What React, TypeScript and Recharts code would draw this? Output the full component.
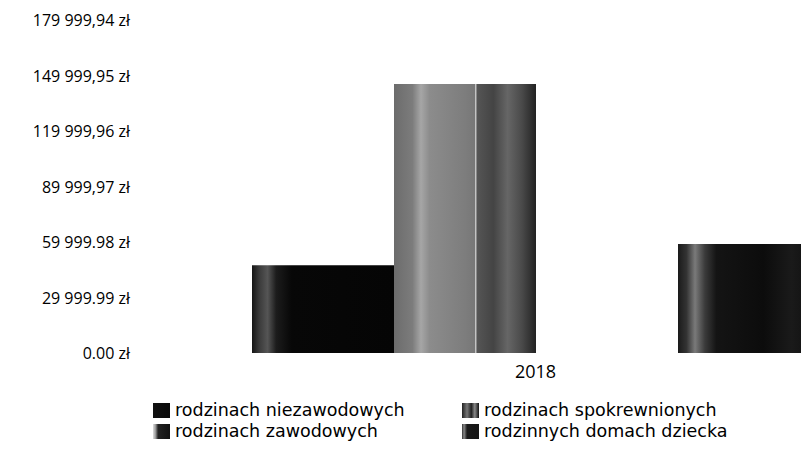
import { BarChart, Bar, XAxis, YAxis, Legend } from 'recharts';

// wartości
const categories = ['2018'];
const niezawodowe = [47500];
const zawodowe = [145400];
const spokrewnione = [0];
const domyDziecka = [58900];

const yTicks = [0, 29999.99, 59999.98, 89999.97, 119999.96, 149999.95, 179999.94];
const yTickLabels = ['0.00 zł', '29 999.99 zł', '59 999.98 zł', '89 999,97 zł', '119 999,96 zł', '149 999,95 zł', '179 999,94 zł'];

const seriesNames = [
    'rodzinach niezawodowych',
    'rodzinach zawodowych',
    'rodzinach spokrewnionych',
    'rodzinnych domach dziecka',
];

const data = categories.map((c, i) => ({
    year: c,
    a: niezawodowe[i],
    b: zawodowe[i],
    c: spokrewnione[i],
    d: domyDziecka[i],
}));

const FONT = '"Open Sans", sans-serif';
const LEGEND_FONT = '"DejaVu Sans", sans-serif';

// kolory ikon legendy (skan, więc lekko "brudne")
const legendFills = [
    'linear-gradient(90deg, #111 0%, #0a0a0a 100%)',
    'linear-gradient(90deg, #ddd 0%, #999 15%, #222 30%, #111 100%)',
    'linear-gradient(90deg, #222 0%, #777 30%, #222 55%, #888 75%, #111 100%)',
    'linear-gradient(90deg, #333 0%, #888 12%, #1a1a1a 30%, #151515 100%)',
];

const YTick = ({ y, payload }: any) => {
    const idx = yTicks.indexOf(payload.value);
    return (
        <text x={130} y={y} textAnchor="end" dominantBaseline="central" fill="#000" fontSize={16} fontFamily={FONT}>
            {yTickLabels[idx] ?? ''}
        </text>
    );
};

const renderLegend = () => {
    // kolejność kolumnami: 0,1 | 2,3
    const order = [0, 2, 1, 3];
    return (
        <div style={{ display: 'grid', gridTemplateColumns: '309px 330px', fontFamily: LEGEND_FONT, fontSize: 17.5, color: '#000' }}>
            {order.map((i) => (
                <div key={i} style={{ display: 'flex', alignItems: 'center', height: 21 }}>
                    <span style={{ width: 17, height: 15, background: legendFills[i], marginRight: 5, display: 'block', flexShrink: 0 }} />
                    <span style={{ lineHeight: '21px', whiteSpace: 'nowrap' }}>{seriesNames[i]}</span>
                </div>
            ))}
        </div>
    );
};

const App = () => {
    return (
        <div style={{ margin: -8, width: 809, height: 452, overflow: 'hidden', position: 'relative', background: '#fff' }}>
            <BarChart
                width={819}
                height={452}
                data={data}
                margin={{ top: 20, right: 0, bottom: 69, left: 0 }}
                barCategoryGap={0}
                barGap={0}
            >
                <defs>
                    <linearGradient id="gA" x1="0" y1="0" x2="1" y2="0">
                        <stop offset="0%" stopColor="#151515" />
                        <stop offset="5%" stopColor="#3a3a3a" />
                        <stop offset="11%" stopColor="#555" />
                        <stop offset="17%" stopColor="#1c1c1c" />
                        <stop offset="28%" stopColor="#070707" />
                        <stop offset="100%" stopColor="#050505" />
                    </linearGradient>
                    <linearGradient id="gB" x1="0" y1="0" x2="1" y2="0">
                        <stop offset="0%" stopColor="#6c6c6c" />
                        <stop offset="13%" stopColor="#7c7c7c" />
                        <stop offset="19%" stopColor="#a6a6a6" />
                        <stop offset="25%" stopColor="#8c8c8c" />
                        <stop offset="50%" stopColor="#7d7d7d" />
                        <stop offset="57%" stopColor="#777" />
                        <stop offset="57.5%" stopColor="#d8d8d8" />
                        <stop offset="58.5%" stopColor="#555" />
                        <stop offset="70%" stopColor="#444" />
                        <stop offset="80%" stopColor="#666" />
                        <stop offset="90%" stopColor="#4a4a4a" />
                        <stop offset="100%" stopColor="#222" />
                    </linearGradient>
                    <linearGradient id="gD" x1="0" y1="0" x2="1" y2="0">
                        <stop offset="0%" stopColor="#1a1a1a" />
                        <stop offset="6%" stopColor="#333" />
                        <stop offset="12%" stopColor="#7a7a7a" />
                        <stop offset="19%" stopColor="#3a3a3a" />
                        <stop offset="27%" stopColor="#141414" />
                        <stop offset="60%" stopColor="#0c0c0c" />
                        <stop offset="80%" stopColor="#1a1a1a" />
                        <stop offset="100%" stopColor="#0c0c0c" />
                    </linearGradient>
                </defs>
                <XAxis
                    dataKey="year"
                    axisLine={false}
                    tickLine={false}
                    tickMargin={6}
                    height={30}
                    tick={{ fill: '#000', fontSize: 18, fontFamily: FONT }}
                />
                <YAxis
                    width={252}
                    domain={[0, 179999.94]}
                    ticks={yTicks}
                    interval={0}
                    axisLine={false}
                    tickLine={false}
                    tick={<YTick />}
                />
                <Legend
                    layout="vertical"
                    align="center"
                    verticalAlign="middle"
                    content={renderLegend}
                    wrapperStyle={{ position: 'absolute', left: 153, top: 400, width: 650 }}
                />
                <Bar dataKey="a" name={seriesNames[0]} fill="url(#gA)" isAnimationActive={false} />
                <Bar dataKey="b" name={seriesNames[1]} fill="url(#gB)" isAnimationActive={false} />
                <Bar dataKey="c" name={seriesNames[2]} fill="#333" isAnimationActive={false} />
                <Bar dataKey="d" name={seriesNames[3]} fill="url(#gD)" isAnimationActive={false} />
            </BarChart>
        </div>
    );
};

export default App;
